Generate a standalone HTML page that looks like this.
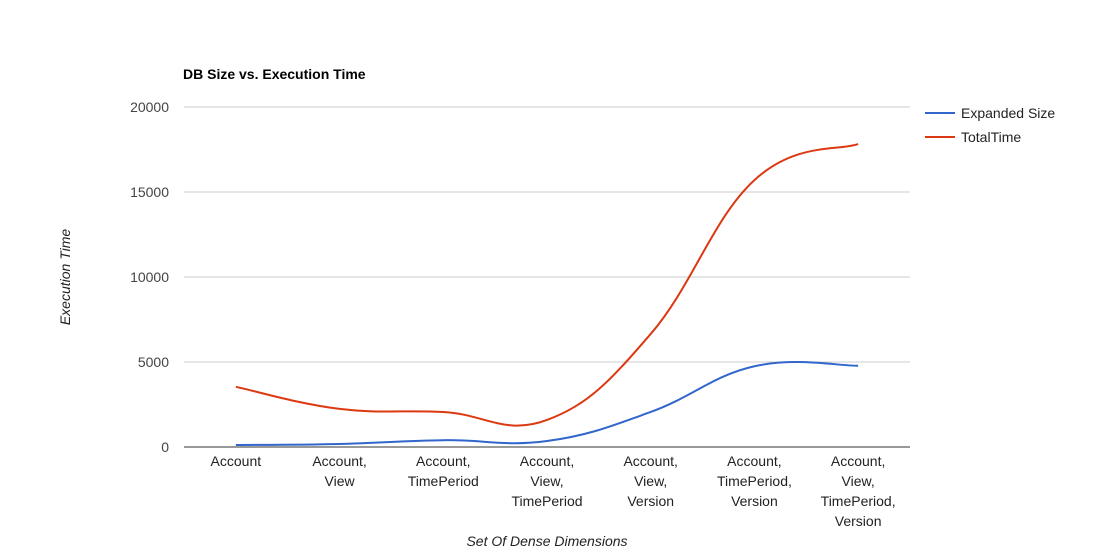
<!DOCTYPE html>
<html><head><meta charset="utf-8"><style>
body{margin:0;background:#fff;font-family:"Liberation Sans",Arial,sans-serif;}
svg text{font-family:"Liberation Sans",Arial,sans-serif;}
</style></head><body>
<svg id="chart" width="1093" height="554">
<text x="183" y="79" font-size="14" font-weight="bold" fill="#000">DB Size vs. Execution Time</text>
<g id="grid"></g><g id="xlabels"></g><g id="series"></g>
<text transform="translate(70,277) rotate(-90)" text-anchor="middle" font-size="14" font-style="italic" fill="#222">Execution Time</text>
<text x="547" y="546" text-anchor="middle" font-size="14" font-style="italic" fill="#222">Set Of Dense Dimensions</text>
<g>
<line x1="925" y1="113" x2="955" y2="113" stroke="#3366cc" stroke-width="2"/>
<text x="961" y="118" font-size="14" fill="#222">Expanded Size</text></g>
<g>
<line x1="925" y1="137" x2="955" y2="137" stroke="#dc3912" stroke-width="2"/>
<text x="961" y="142" font-size="14" fill="#222">TotalTime</text></g>
</svg>
<script>
const categories=[["Account"],["Account,","View"],["Account,","TimePeriod"],["Account,","View,","TimePeriod"],["Account,","View,","Version"],["Account,","TimePeriod,","Version"],["Account,","View,","TimePeriod,","Version"]];
const expandedSize=[120,180,400,350,2060,4750,4780];
const totalTime=[3540,2240,2060,1590,6650,15700,17820];
const yTicks=[0,5000,10000,15000,20000];
const NS="http://www.w3.org/2000/svg";
const L=184,R=910,T=107,B=447,yMax=20000;
const step=(R-L)/categories.length;
const xS=i=>L+step*(i+0.5);
const yS=v=>B-(v/yMax)*(B-T);
function mk(t,a,p){const e=document.createElementNS(NS,t);for(const k in a)e.setAttribute(k,a[k]);p.appendChild(e);return e;}
const grid=document.getElementById('grid');
yTicks.forEach(v=>{
 const l=mk('line',{x1:L,x2:R,y1:yS(v),y2:yS(v),stroke:v===0?'#333':'#ccc','stroke-width':1},grid);
 
 
 const t=mk('text',{x:L-15,y:yS(v)+5,'text-anchor':'end','font-size':14,fill:'#444'},grid);
 t.textContent=v;
 
 
});
const xl=document.getElementById('xlabels');
categories.forEach((c,i)=>{
 const t=mk('text',{x:xS(i),y:466,'text-anchor':'middle','font-size':14,fill:'#222'},xl);
 
 
 c.forEach((s,j)=>{const ts=mk('tspan',{x:xS(i),dy:j===0?0:20},t);ts.textContent=s;});
});
function path(vals){
 const p=vals.map((v,i)=>[xS(i),yS(v)]);
 let d='M'+p[0][0]+','+p[0][1];
 const k=0.2;
 for(let i=0;i<p.length-1;i++){
  const p0=p[Math.max(0,i-1)],p1=p[i],p2=p[i+1],p3=p[Math.min(p.length-1,i+2)];
  const c1=[p1[0]+(p2[0]-p0[0])*k,p1[1]+(p2[1]-p0[1])*k];
  const c2=[p2[0]-(p3[0]-p1[0])*k,p2[1]-(p3[1]-p1[1])*k];
  d+=' C'+c1+' '+c2+' '+p2;
 }
 return d;
}
const sg=document.getElementById('series');
const s1=mk('path',{d:path(expandedSize),fill:'none',stroke:'#3366cc','stroke-width':2},sg);


const s2=mk('path',{d:path(totalTime),fill:'none',stroke:'#dc3912','stroke-width':2},sg);


</script>
</body></html>
